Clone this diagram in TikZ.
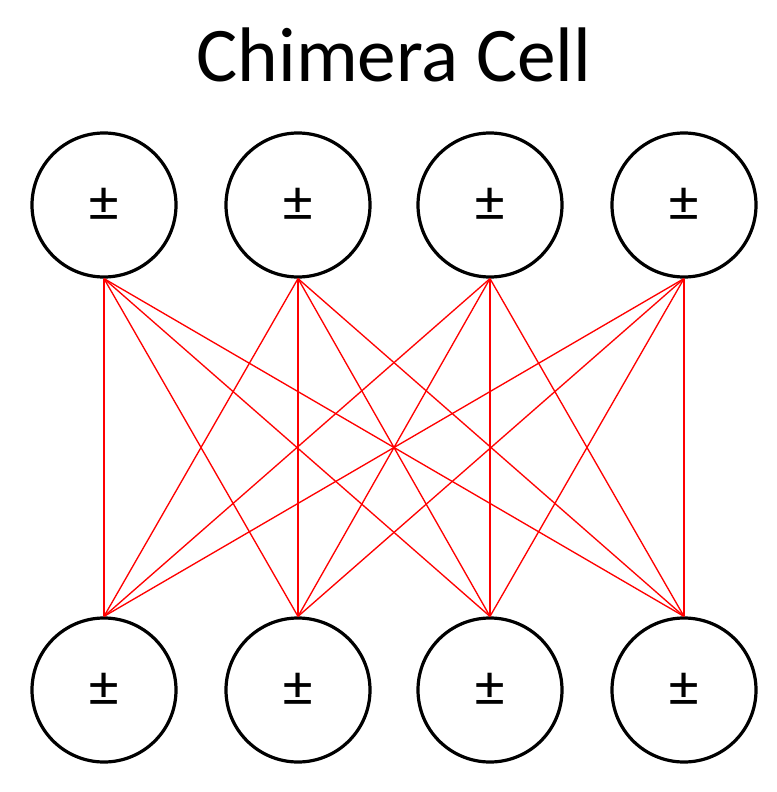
\documentclass[tikz,border=0pt]{standalone}
\usepackage{fontspec}
\setmainfont{Carlito}
\tikzset{
  spin/.style={circle, draw, line width=2.4pt, minimum size=108pt, inner sep=0pt, font=\fontsize{44}{44}\selectfont},
  coupler/.style={red, line width=1pt}
}
\begin{document}
\begin{tikzpicture}[x=0.75pt, y=-0.75pt]
        \useasboundingbox (0, 0) rectangle (776, 792);
        \node[font=\fontsize{58}{58}\selectfont] (title) at (394, 55) {Chimera Cell};
        % top and bottom rows
        \foreach \i/\x in {1/104, 2/298, 3/490, 4/684} {
          \node[spin] (t\i) at (\x, 205) {±};
          \node[spin] (b\i) at (\x, 690) {±};
        }
        \foreach \i in {1,...,4}
          \foreach \j in {1,...,4}
            \draw[coupler] (t\i.south) -- (b\j.north);
\end{tikzpicture}
\end{document}
